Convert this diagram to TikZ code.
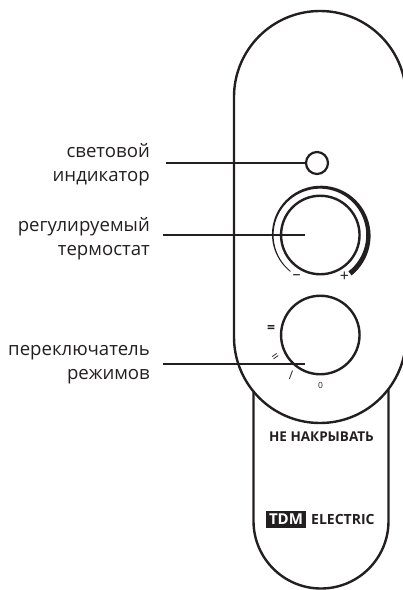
\documentclass[tikz,border=0pt]{standalone}
\usepackage{fontspec}
\setmainfont{Open Sans}
\definecolor{ink}{HTML}{231F20}
\tikzset{
  body/.style={draw=ink,line width=2.4pt,fill=white},
  knob/.style={circle,draw=ink,line width=2.4pt,inner sep=0pt,minimum size=78.5pt},
  lamp/.style={circle,draw=ink,line width=2.2pt,inner sep=0pt,minimum size=22pt},
  lead/.style={draw=ink,line width=1.7pt},
  lab/.style={align=right,text=ink,font=\fontsize{18.6}{24}\selectfont,anchor=east,inner sep=0pt},
  tick/.style={text=ink,font=\fontsize{10}{10}\selectfont,inner sep=0pt},
}
\begin{document}
\begin{tikzpicture}[x=1pt,y=-1pt]
\useasboundingbox (0,0) rectangle (403,590);
\clip (0,0) rectangle (403,590);
% tag
\draw[body] (253.5,380) -- (253.5,521) arc[start angle=180,delta angle=-180,radius=67.5] -- (388.5,380);
% body
\draw[body] (234,97) arc[start angle=180,delta angle=180,radius=86]
  -- (406,337) arc[start angle=0,delta angle=180,radius=86] -- cycle;
\node[lamp] (lamp) at (317,163) {};
\node[knob] (thermo) at (320.3,235) {};
\node[knob] (mode) at (320.3,335) {};
% scale arc
\fill[ink] plot[smooth,domain=231:-52,samples=60,variable=\a]
   ({320+(47.3+(231-\a)/283*4)*cos(\a)},{235-(47.3+(231-\a)/283*4)*sin(\a)})
   -- plot[smooth,domain=-52:231,samples=60,variable=\a]
   ({320+(46.5-(231-\a)/283*0.3)*cos(\a)},{235-(46.5-(231-\a)/283*0.3)*sin(\a)}) -- cycle;
% labels
\node[lab] (l1) at (150,165) {световой\\индикатор};
\node[lab] (l2) at (150,238.5) {регулируемый\\термостат};
\node[lab] (l3) at (150,365) {переключатель\\режимов};
\coordinate (e1) at (166,163);
\coordinate (e2) at (163,235);
\coordinate (e3) at (163,364);
\coordinate (t2) at (305,235);
\coordinate (t3) at (305,364);
\draw[lead] (e1) -- (lamp.west);
\draw[lead] (e2) -- (t2);
\draw[lead] (e3) -- (t3);
% ticks
\node[tick,font=\fontsize{16}{16}\selectfont] (minus) at (296.5,277) {–};
\node[tick,font=\fontsize{16}{16}\selectfont] (plus) at (344.5,277) {+};
\node[tick,font=\fontsize{14}{14}\selectfont\bfseries] (m2) at (271,329) {=};
\node[tick,rotate=35,font=\fontsize{13}{13}\selectfont] (m1) at (276,358) {=};
\node[tick,font=\fontsize{12}{12}\selectfont] (m3) at (291,375.5) {/};
\node[tick,font=\fontsize{8.5}{9}\selectfont] (m0) at (320.5,385.5) {0};
% text
\node[text=ink,font=\fontsize{13.5}{13.5}\selectfont\bfseries,inner sep=0pt] (warn) at (321.5,437) {НЕ НАКРЫВАТЬ};
\node[fill=ink,text=white,font=\fontsize{15}{15}\selectfont\bfseries,inner sep=0pt,minimum width=40pt,minimum height=17pt] (tdm) at (286,519) {TDM};
\node[text=ink,font=\fontsize{14}{14}\selectfont\bfseries,inner sep=0pt,anchor=west] (elec) at (311,519) {ELECTRIC};
\end{tikzpicture}
\end{document}
